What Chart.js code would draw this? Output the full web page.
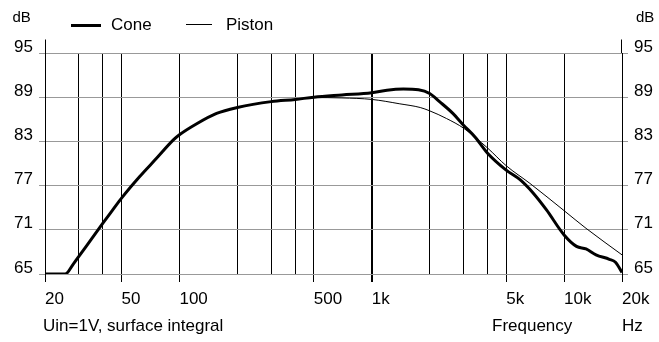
<!DOCTYPE html>
<html><head><meta charset="utf-8">
<script src="https://cdn.jsdelivr.net/npm/chart.js@4/dist/chart.umd.min.js"></script>
<style>html,body{margin:0;padding:0;background:#fff}#wrap{width:659px;height:342px;position:relative}</style>
</head><body><div id="wrap"><canvas id="c" width="659" height="342"></canvas></div>
<script>
// ---- data ----
const coneFreq = [20, 25.5, 28, 30, 35, 40, 45, 50, 62, 76, 93, 100, 123, 156, 200, 300, 400, 500, 700, 1000, 1200, 1460, 1750, 2000, 2250, 2640, 3000, 3440, 4000, 5000, 5900, 6900, 8100, 10000, 11600, 13000, 14650, 17200, 18500, 20000];
const coneDb   = [65, 65, 66.3, 67.4, 69.8, 71.9, 73.7, 75.3, 78.2, 80.7, 83.2, 83.9, 85.4, 86.8, 87.6, 88.4, 88.7, 89.0, 89.3, 89.6, 89.95, 90.1, 90.0, 89.5, 88.4, 86.8, 85.2, 83.6, 81.4, 79.1, 77.8, 76.0, 73.7, 70.3, 68.75, 68.4, 67.6, 67.0, 66.6, 65.2];
const pistonFreq = [20, 25.5, 28, 30, 35, 40, 45, 50, 62, 76, 93, 100, 123, 156, 200, 300, 400, 500, 700, 1000, 1400, 1786, 2000, 2450, 3000, 4000, 5000, 6640, 10000, 13000, 20000];
const pistonDb   = [65, 65, 66.3, 67.4, 69.8, 71.9, 73.7, 75.3, 78.2, 80.7, 83.2, 83.9, 85.4, 86.8, 87.6, 88.4, 88.7, 88.95, 88.9, 88.7, 88.1, 87.6, 87.15, 86.1, 84.8, 82.1, 79.7, 77.3, 73.6, 71.2, 67.6];
const xGridFreqs = [20, 30, 40, 50, 100, 200, 300, 400, 500, 1000, 2000, 3000, 4000, 5000, 10000, 20000];
const xTickLabels = {20:'20', 50:'50', 100:'100', 500:'500', 1000:'1k', 5000:'5k', 10000:'10k', 20000:'20k'};
const yTicks = [65, 71, 77, 83, 89, 95];
const seriesNames = ['Cone', 'Piston'];

const FONT = '"Liberation Sans", Arial, sans-serif';
const toPts = (fs, ds) => fs.map((f, i) => ({x: f, y: ds[i]}));

const decor = {
  id: 'decor',
  afterDraw(chart) {
    const ctx = chart.ctx, a = chart.chartArea;
    ctx.save();
    ctx.strokeStyle = '#000'; ctx.lineWidth = 1;
    ctx.beginPath();
    const lx = Math.round(a.left) + 0.5, rx = Math.round(a.right) - 0.5;
    ctx.moveTo(lx, a.top - 13.5); ctx.lineTo(lx, a.top);
    ctx.moveTo(rx, a.top - 13.5); ctx.lineTo(rx, a.top);
    ctx.stroke();
    ctx.fillStyle = '#000';
    ctx.textBaseline = 'alphabetic';
    ctx.textAlign = 'left';
    ctx.font = '15px ' + FONT;
    ctx.fillText('dB', 12.5, 21.5);
    ctx.fillText('dB', 636, 21.5);
    // legend
    ctx.font = '17px ' + FONT;
    ctx.lineWidth = 3;
    ctx.beginPath(); ctx.moveTo(71, 25.5); ctx.lineTo(101, 25.5); ctx.stroke();
    ctx.fillText(seriesNames[0], 111, 30);
    ctx.lineWidth = 1;
    ctx.beginPath(); ctx.moveTo(186, 24.5); ctx.lineTo(212, 24.5); ctx.stroke();
    ctx.fillText(seriesNames[1], 226, 30);
    // bottom texts
    ctx.fillText('Uin=1V, surface integral', 43, 331);
    ctx.fillText('Frequency', 492, 331);
    ctx.fillText('Hz', 622, 331);
    ctx.restore();
  }
};

new Chart(document.getElementById('c'), {
  type: 'line',
  data: {
    datasets: [
      {label: seriesNames[0], data: toPts(coneFreq, coneDb), borderColor: '#000', borderWidth: 3, pointRadius: 0, cubicInterpolationMode: 'monotone', fill: false},
      {label: seriesNames[1], data: toPts(pistonFreq, pistonDb), borderColor: '#000', borderWidth: 1, pointRadius: 0, cubicInterpolationMode: 'monotone', fill: false}
    ]
  },
  options: {
    responsive: false,
    animation: false,
    devicePixelRatio: 1,
    layout: {padding: {top: 53, left: 0, right: 0, bottom: 0}},
    plugins: {legend: {display: false}, tooltip: {enabled: false}},
    scales: {
      x: {
        type: 'logarithmic', min: 20, max: 20000,
        afterBuildTicks: s => { s.ticks = xGridFreqs.map(v => ({value: v})); },
        afterFit: s => { s.height = 68; },
        ticks: {
          autoSkip: false, maxRotation: 0, minRotation: 0, align: 'start', padding: 7,
          color: '#000', font: {family: FONT, size: 17},
          callback: v => xTickLabels[v] || ''
        },
        grid: {
          color: '#000',
          lineWidth: c => (c.tick && c.tick.value === 1000) ? 2 : 1,
          tickLength: 8,
          tickColor: c => (c.tick && xTickLabels[c.tick.value]) ? '#000' : 'rgba(0,0,0,0)'
        },
        border: {display: false}
      },
      y: {
        position: 'left', min: 65, max: 95,
        afterBuildTicks: s => { s.ticks = yTicks.map(v => ({value: v})); },
        afterFit: s => { s.width = 45; },
        ticks: {color: '#000', font: {family: FONT, size: 17}, padding: 6, labelOffset: -6},
        grid: {color: '#999', tickLength: 6, tickColor: '#999'},
        border: {display: true, color: '#000'}
      },
      y2: {
        position: 'right', min: 65, max: 95,
        afterBuildTicks: s => { s.ticks = yTicks.map(v => ({value: v})); },
        afterFit: s => { s.width = 37; },
        ticks: {color: '#000', font: {family: FONT, size: 17}, padding: 6, labelOffset: -6},
        grid: {color: '#999', tickLength: 6, tickColor: '#999', drawOnChartArea: false},
        border: {display: true, color: '#000'}
      }
    }
  },
  plugins: [decor]
});
</script></body></html>
